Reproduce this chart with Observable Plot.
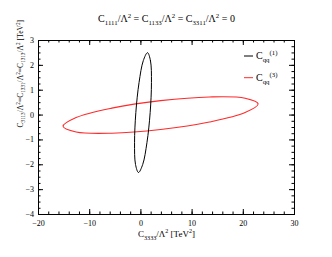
<!DOCTYPE html>
<html><head><meta charset="utf-8">
<script src="https://cdn.jsdelivr.net/npm/d3@7"></script>
<script src="https://cdn.jsdelivr.net/npm/@observablehq/plot@0.6"></script>
<style>body{margin:0;background:#fff}</style>
</head><body><div id="chart"></div>
<script>
// Tick values
const xMajor = [-20, -10, 0, 10, 20, 30];
const yMajor = [-4, -3, -2, -1, 0, 1, 2, 3];
const xMinor = d3.range(-20, 30.001, 2);
const yMinor = d3.range(-4, 3.001, 0.25);

// Contour of C_qq^(1) (black)
const qq1X = [1.29, 1.87, 2.06, 1.81, 1.18, 0.35, -0.47, -1.05, -1.24, -0.99, -0.36, 0.47];
const qq1Y = [2.51, 2.19, 1.31, 0.10, -1.11, -1.99, -2.31, -1.99, -1.11, 0.10, 1.31, 2.19];
// Contour of C_qq^(3) (red)
const qq3X = [22.9, 20.35, 13.38, 3.85, -5.68, -12.65, -15.2, -12.65, -5.68, 3.85, 13.38, 20.35];
const qq3Y = [0.45, 0.68, 0.73, 0.58, 0.28, -0.10, -0.45, -0.68, -0.73, -0.58, -0.28, 0.10];

const titleText = "C_{1111}/Λ^{2} = C_{1133}/Λ^{2} = C_{3311}/Λ^{2} = 0";
const xLabel = "C_{3333}/Λ^{2} [TeV^{2}]";
const yLabel = "C_{3113}/Λ^{2}=C_{1331}/Λ^{2}=C_{1313}/Λ^{2} [TeV^{2}]";
const legendLabels = ["C_{qq}^{(1)}", "C_{qq}^{(3)}"];
const legendColors = ["black", "#ff2a2a"];

const qq1 = qq1X.map((x, i) => ({x, y: qq1Y[i]}));
const qq3 = qq3X.map((x, i) => ({x, y: qq3Y[i]}));

const W = 332, H = 257, mL = 38, mR = 38, mT = 40, mB = 43;
const fw = W - mL - mR, fh = H - mT - mB;

const plot = Plot.plot({
  width: W, height: H,
  marginLeft: mL, marginRight: mR, marginTop: mT, marginBottom: mB,
  style: {fontFamily: "'Liberation Serif', 'Times New Roman', serif", fontSize: "8px", background: "white", color: "black"},
  x: {domain: [-20, 30]},
  y: {domain: [-4, 3]},
  marks: [
    Plot.line(qq3, {x: "x", y: "y", curve: "catmull-rom-closed", stroke: legendColors[1], strokeWidth: 1.1}),
    Plot.line(qq1, {x: "x", y: "y", curve: "catmull-rom-closed", stroke: legendColors[0], strokeWidth: 1}),
    Plot.frame({stroke: "black", strokeWidth: 1}),
    // inward ticks
    Plot.tickX(xMajor, {x: d => d, insetTop: fh - 5, stroke: "black"}),
    Plot.tickX(xMajor, {x: d => d, insetBottom: fh - 5, stroke: "black"}),
    Plot.tickX(xMinor, {x: d => d, insetTop: fh - 2.5, stroke: "black"}),
    Plot.tickX(xMinor, {x: d => d, insetBottom: fh - 2.5, stroke: "black"}),
    Plot.tickY(yMajor, {y: d => d, insetRight: fw - 5, stroke: "black"}),
    Plot.tickY(yMajor, {y: d => d, insetLeft: fw - 5, stroke: "black"}),
    Plot.tickY(yMinor, {y: d => d, insetRight: fw - 2.5, stroke: "black"}),
    Plot.tickY(yMinor, {y: d => d, insetLeft: fw - 2.5, stroke: "black"}),
    Plot.axisX(xMajor, {tickSize: 0, tickPadding: 6, label: null, fontSize: 8}),
    Plot.axisY(yMajor, {tickSize: 0, tickPadding: 4.5, label: null, fontSize: 8}),
    Plot.text([titleText], {frameAnchor: "top", dy: -26, fontSize: 10, fill: "black"}),
    Plot.text([xLabel], {frameAnchor: "bottom", dy: 22, fontSize: 9, fill: "black"}),
    Plot.text([yLabel], {frameAnchor: "left", dx: -18, rotate: -90, fontSize: 7.6, fill: "black"}),
    Plot.text(legendLabels, {frameAnchor: "top-right", textAnchor: "start", fontSize: 10, fill: "black"})
  ]
});

document.getElementById("chart").appendChild(plot);

// Legend: place the two entries at absolute positions
const legendY = [56, 77.7];
const svg = d3.select(plot);
const legendG = svg.append("g").attr("font-size", 10).attr("text-anchor", "start");
svg.selectAll("text").each(function() {
  const idx = legendLabels.indexOf(this.textContent);
  if (idx >= 0) {
    this.removeAttribute("transform");
    this.setAttribute("x", 256);
    this.setAttribute("y", legendY[idx]);
    this.setAttribute("dy", "0.32em");
    this.setAttribute("font-size", 10);
    this.setAttribute("fill", "black");
    legendG.node().appendChild(this);
  }
});
legendLabels.forEach((l, i) => {
  svg.append("line").attr("x1", 244).attr("x2", 253).attr("y1", legendY[i]).attr("y2", legendY[i])
    .attr("stroke", legendColors[i]).attr("stroke-width", 1);
});

// rich text: subscripts and superscripts
function rich(el, str) {
  const base = parseFloat(getComputedStyle(el).fontSize) || 9;
  el.textContent = "";
  const re = /([_^])\{([^}]*)\}|([^_^]+)/g;
  let m;
  while ((m = re.exec(str))) {
    const t = document.createElementNS("http://www.w3.org/2000/svg", "tspan");
    if (m[3]) t.textContent = m[3];
    else {
      t.textContent = m[2];
      t.setAttribute("font-size", base * 0.68);
      t.setAttribute("baseline-shift", m[1] === "_" ? -base * 0.28 : base * 0.42);
    }
    el.appendChild(t);
  }
}
svg.selectAll("text").each(function() {
  const s = this.textContent;
  if (/[_^]\{/.test(s)) rich(this, s);
});
</script></body></html>
